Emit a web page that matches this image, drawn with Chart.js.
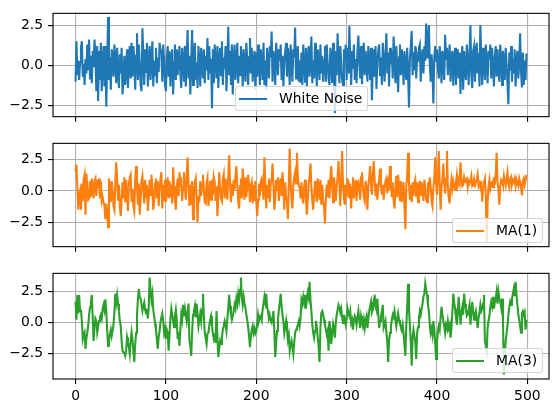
<!DOCTYPE html>
<html>
<head>
<meta charset="utf-8">
<script src="https://cdn.jsdelivr.net/npm/chart.js@4.4.0/dist/chart.umd.min.js"></script>
<style>
  html, body { margin: 0; padding: 0; background: #fff; }
  body { width: 559px; height: 413px; position: relative; overflow: hidden; font-family: "DejaVu Sans", sans-serif; }
  .panel { position: absolute; left: 0; width: 559px; }
  .leg { position: absolute; height: 25px; box-sizing: border-box; border: 1px solid rgba(204,204,204,0.8);
         background: rgba(255,255,255,0.8); border-radius: 3px; font-size: 13.9px; color: #000; }
  .leg .h { position: absolute; left: 3px; top: 10.5px; width: 28px; height: 2px; }
  .leg .t { position: absolute; left: 43px; top: 0; line-height: 23px; white-space: nowrap; }
</style>
</head>
<body>
<div class="panel" style="top:0;height:130px"><canvas id="c1"></canvas></div>
<div class="panel" style="top:130px;height:130px"><canvas id="c2"></canvas></div>
<div class="panel" style="top:260px;height:153px"><canvas id="c3"></canvas></div>

<div class="leg" style="left:235px;top:86px;width:133px"><span class="h" style="background:#1f77b4"></span><span class="t">White Noise</span></div>
<div class="leg" style="left:452px;top:218px;width:91px"><span class="h" style="background:#ff7f0e"></span><span class="t">MA(1)</span></div>
<div class="leg" style="left:452px;top:348px;width:91px"><span class="h" style="background:#2ca02c"></span><span class="t">MA(3)</span></div>

<script>
// values, 500 steps each
const whiteNoise = [
  -1.0, 1.5, -0.6, 0.3, -0.9, 0.2, 1.1, 1.5, -0.7, 0.1, -1.2, 0.4, -0.5, 1.3, -0.3, 1.6, -0.8, 0.6, -1.1, 0.9, -0.1, 1.6, 0.5, -1.6, 1.2,
  -2.2, 0.9, -0.9, 1.4, -1.6, 0.2, 1.2, -1.3, 1.2, -2.55, 0.1, 3.0, -0.9, 0.5, -1.5, 1.0, 0.6, -0.7, 1.3, 0.3, -1.1, 1.1, -0.4, -1.4, 0.7,
  -0.5, 1.1, -1.8, -0.9, 0.6, -1.2, -0.2, 1.0, -1.4, 0.1, 1.2, -0.8, 1.4, -0.7, 1.2, 0.4, -1.5, 0.6, 2.0, -0.9, 1.3, 0.2, -1.2, -1.6, 2.3,
  0.6, -1.2, 1.0, -0.4, 1.4, -1.3, 0.2, 1.2, -0.9, 0.4, 1.5, -1.3, 0.3, -0.6, 1.1, -1.1, 0.5, -0.4, 1.4, 1.0, 0.8, -1.0, 1.3, 0.3, -1.2,
  -1.6, 0.5, 1.2, -0.7, 0.9, -1.3, 0.4, 1.0, -1.8, 0.2, 1.3, -0.9, 1.0, -0.6, 0.3, 1.2, -0.5, -1.4, 1.1, 0.4, -1.0, 1.2, -1.3, 0.5, 2.2,
  -0.8, 0.6, -1.8, 0.3, 2.2, -1.2, 0.5, 1.4, -0.9, 0.2, -1.4, 1.2, 0.3, -1.3, 1.1, 0.4, -0.8, 1.0, -1.1, 0.6, -0.3, 1.7, -0.9, 1.2, -0.5,
  0.4, -2.65, 1.0, -1.1, 1.3, 0.3, -0.8, 1.2, -1.4, 0.2, 1.1, -0.6, 1.5, -1.2, 0.5, -0.2, 1.2, -1.6, 0.3, 2.4, -0.6, 0.9, -1.2, 1.3, -1.8,
  0.4, 1.3, -0.9, 0.2, 1.4, -1.1, 0.6, -0.6, 1.2, 0.3, -1.3, 1.0, 0.1, -1.0, 1.4, 0.4, -1.2, 0.5, 1.7, -0.5, 1.1, -1.0, 0.3, 0.9, -1.5,
  0.8, -0.7, 1.3, 0.2, -1.2, 1.0, 0.4, -0.9, 1.4, -1.2, 0.3, -1.5, 1.1, 0.1, -0.8, 1.2, 0.5, 2.1, -1.0, 0.9, 0.2, -1.2, 1.4, 0.6, -0.6,
  1.0, 0.3, 1.3, -0.9, 0.6, -1.3, 0.2, 0.85, 1.4, -0.7, 1.1, 0.4, -1.2, 1.3, 0.2, -1.0, 1.0, 0.5, 2.35, -0.8, 0.6, 1.2, -1.0, 0.3, -1.06,
  0.8, -1.2, 1.3, 0.2, -1.0, 1.1, -1.3, 0.4, 1.2, -0.7, 0.6, 1.8, -1.1, 0.3, -0.8, 1.4, 0.2, -1.3, 1.0, 0.4, -0.9, 1.3, -0.5, 0.6, -1.0,
  0.3, 1.2, -1.0, 1.3, 0.2, -0.8, -1.2, 1.1, 0.5, -1.1, 1.4, 0.1, -2.95, 0.9, -0.6, 2.0, 0.4, -1.1, 1.2, 0.2, -0.9, -1.2, 1.0, 0.3, 1.3,
  -0.9, 1.1, -0.5, 2.45, 0.3, -1.2, 0.9, -0.2, 1.3, -0.9, 0.4, -1.1, 1.0, 1.85, 0.2, -0.8, 1.2, -1.16, 0.5, 1.4, -0.6, 0.9, 0.2, -1.0, 1.2,
  0.4, -0.9, 1.1, -2.15, 0.3, 1.0, -0.7, 1.2, -1.46, 0.2, 0.9, 1.3, -0.6, 0.5, -1.2, 1.4, 0.3, -1.0, 0.7, 2.0, -0.5, 0.8, -1.3, 1.1, 0.1,
  0.9, -0.8, 1.8, 0.3, -1.1, 1.2, -0.2, -1.66, 0.5, 1.3, -0.6, 1.0, 0.4, -1.2, 0.9, -0.2, -0.9, 1.1, -0.5, -2.6, 0.4, 1.2, 2.14, -0.6, 0.8,
  -0.3, 1.2, -0.8, 0.6, 0.3, 1.1, 1.3, -1.0, 0.4, 1.0, -0.5, 1.2, 0.3, 2.6, 0.5, 1.3, 2.5, 0.2, -1.0, 0.7, -0.3, -2.36, 0.5, 1.2, 0.3,
  1.0, -0.2, -0.8, 1.2, 0.4, -1.1, 0.9, 0.3, -0.9, 1.9, 0.4, 1.1, -0.6, 0.5, 1.3, -1.0, 0.2, 0.9, -1.26, 0.4, 1.1, -1.2, 0.3, 1.0, -0.8,
  0.8, -1.76, 0.3, 1.2, -1.5, 0.9, -0.2, -0.9, 1.3, 0.4, -1.2, 0.7, 2.5, -0.6, -1.4, 0.9, 1.2, -1.0, 0.3, 1.4, -0.5, 0.8, -1.3, 2.5, 0.4,
  -1.2, 1.1, 0.3, -0.9, 1.3, 0.2, -1.1, 0.9, 0.4, 1.3, -0.8, 1.1, 0.1, -1.3, 0.5, 1.2, -0.7, 1.0, -0.2, -1.0, 1.3, 0.4, -1.2, 0.9, 0.3,
  -0.9, 1.1, 0.1, -1.1, -2.4, 0.8, -0.3, 1.2, -1.0, 0.4, -0.5, 1.0, -1.3, 0.3, 0.9, -0.8, 0.2, 2.0, -0.4, -1.36, 0.8, -1.2, 0.3, -0.9, 0.74
];

const ma1 = [
  1.5, 2.1, 0.4, -1.5, -0.3, 0.0, -1.5, 0.6, -0.8, 0.9, 1.3, -1.9, 1.4, 0.3, -0.7, -0.6, 0.8, -0.5, 1.0, 0.3, -0.6, 0.8, 1.0, -0.4, 0.9,
  0.2, 1.0, -0.6, 0.8, -0.8, -0.5, -0.9, -1.2, -2.25, -1.0, -1.8, -2.9, 1.0, 0.2, -0.9, 0.8, 0.1, -1.2, -1.5, 0.6, 2.3, 1.0, -0.7, 0.5, -1.2,
  -2.0, -0.7, 0.7, -0.6, 1.1, -0.9, 0.9, -0.4, -1.6, 0.6, 1.1, 1.3, -0.9, 0.2, -1.2, -1.6, 0.8, 2.0, 0.3, -1.1, 0.6, -1.9, -0.6, 0.8, 1.2,
  0.1, -1.0, 0.9, -0.5, 0.5, -1.6, -0.6, 0.9, -0.4, 1.3, 0.2, -1.5, -0.8, 0.6, 1.0, -0.6, 0.8, -1.2, 0.2, 0.9, 1.5, -1.4, 0.5, -0.8, 0.9,
  -0.9, 0.2, 1.1, -0.6, 0.8, -0.5, 0.5, -1.0, 1.9, 0.4, -0.7, -1.5, 0.2, 1.0, -0.4, 1.5, 0.6, 0.8, -0.8, 0.3, 1.5, 0.2, -0.7, 1.2, 2.7,
  0.6, -1.2, 0.5, -1.1, 0.8, -2.25, -0.6, 0.7, 1.0, -0.6, -2.5, -0.4, -0.9, 0.8, -0.4, 0.6, 1.3, 0.1, -0.9, -1.0, 0.6, 1.0, -1.2, -0.5, 0.8,
  -0.7, 0.9, -0.3, 1.1, 0.7, -0.8, 0.4, -2.0, -0.5, 1.5, 0.4, -0.6, -0.8, 0.9, 1.3, -0.6, 1.0, 0.2, -0.7, 1.1, 2.85, 0.5, -0.9, 0.6, -0.4,
  0.9, 0.1, 1.2, 2.0, 0.4, -0.8, -1.4, 0.4, 1.0, -0.6, 1.8, 0.6, -0.7, 1.1, -0.5, 0.5, 1.3, 0.5, -0.9, 0.4, 0.7, -1.0, 0.5, -0.8, 0.8,
  -0.8, -2.0, -0.7, 0.6, -0.4, 0.8, 1.0, 0.2, -0.7, 2.7, 0.6, -1.4, 0.5, -0.5, 1.0, -0.9, 0.6, 0.9, 2.2, 0.5, -1.5, -0.5, 0.9, 0.1, 1.1,
  -0.8, 0.5, 1.0, -0.4, 1.5, 0.4, -1.5, 0.7, -0.5, -0.8, -2.25, 0.6, 3.4, 0.8, -0.7, -1.4, 0.5, 1.1, 1.5, 0.6, 3.05, 1.2, 0.4, 0.3, -0.6,
  0.7, -0.5, -1.0, 0.4, 0.9, -0.7, -1.9, -0.7, 0.6, 1.1, 2.2, 0.3, -0.8, -1.5, -0.4, 0.8, 0.1, -0.9, 1.0, 0.2, -0.7, 0.9, -1.1, 0.5, -0.8,
  -1.2, -2.6, -0.7, 0.5, -0.5, 0.9, -0.6, 1.0, 2.0, 0.4, -0.9, 1.1, 0.3, -0.8, 0.4, 1.1, 2.4, 0.6, -1.2, 0.8, 3.2, 0.5, -0.6, -1.1, 0.5,
  -0.5, 0.9, 0.8, -0.6, 0.6, -1.4, 0.3, 1.1, -0.6, 0.2, 0.9, -0.8, 0.7, 0.8, 0.1, -0.7, 1.1, 1.5, 0.3, -0.5, -0.8, 0.8, 0.2, -1.5, 0.4,
  1.1, 2.0, 0.5, -0.3, 1.4, 2.4, 0.8, -0.4, 0.6, -0.7, 0.2, 0.9, 1.8, 0.4, -0.3, 0.5, -0.7, 0.3, 0.8, 1.0, -0.2, 0.6, 0.1, 2.0, 0.7,
  -0.5, 0.7, -0.8, -1.4, 0.3, 1.2, -0.5, 1.3, 0.4, -0.8, 0.8, -0.9, 0.2, 0.7, -1.2, -3.05, 0.4, 1.2, 3.05, 0.6, -0.7, 0.5, -0.9, 0.7, -0.4,
  0.6, 0.9, -0.5, 0.7, -0.9, 0.2, 0.8, -0.4, 0.7, 0.1, -0.8, 0.9, 0.3, -0.7, -0.9, 0.7, 0.2, 1.1, 0.4, -0.8, -1.2, 0.3, 1.0, 2.7, 0.6,
  -0.3, 1.4, 3.2, 0.5, -1.5, 0.4, 0.9, 2.2, 0.6, -0.2, 1.0, 3.2, 0.4, -0.5, -1.0, 0.3, 0.9, 0.2, 0.8, 0.4, 0.1, 0.7, 1.3, 0.5, 0.9,
  0.6, 2.3, 1.0, 0.4, 0.5, 1.1, 0.7, 0.9, 1.0, 0.3, 0.8, 0.6, 0.8, 1.2, 0.4, 0.5, 0.9, 0.3, 0.7, 0.9, 1.3, 0.4, 0.6, 0.3, 0.8,
  -0.85, 0.3, 0.7, 1.0, -0.4, -4.1, -1.0, 0.4, 0.9, 0.2, 0.6, 0.7, 0.3, 1.1, 0.5, 1.4, 3.05, 0.6, 0.2, -1.1, 0.4, 0.9, 0.8, 0.5, 1.2,
  0.7, 0.4, 1.0, 1.5, 0.6, 0.3, 0.9, 1.1, 0.5, 0.8, 0.7, 1.0, 0.4, 0.9, 0.6, 0.4, 1.0, 0.7, 0.3, -0.35, 0.8, 1.0, 0.5, 0.9, 1.3
];

const ma3 = [
  1.65, 0.2, 2.2, 0.7, 2.2, 0.9, 1.0, 0.1, -1.35, -1.0, -0.8, -2.15, -1.3, -0.85, -0.3, 0.6, 1.2, 1.6, 2.2, 0.4, -1.5, -0.4, 0.3, 0.1, -0.8,
  -0.3, 0.1, 0.4, 0.6, 0.3, 1.1, 1.4, 1.0, 1.85, 0.9, -0.6, -1.9, -1.5, -1.0, -0.6, -1.1, -0.7, -0.2, 0.8, 2.3, 1.6, 2.2, 1.5, 0.9, 0.1,
  -0.3, -1.5, -2.3, -2.4, -2.5, -2.7, -2.2, -1.2, -1.6, -2.0, -2.55, -1.5, -0.8, -1.4, -2.3, -3.2, -1.8, -0.85, 0.6, 1.8, 2.7, 2.0, 1.9, 1.4, 0.9,
  1.3, 1.6, 1.0, 0.7, 1.1, 0.3, 1.2, 3.6, 2.6, 1.8, 2.3, 1.0, 0.5, -0.1, -0.6, -1.4, -2.15, -1.2, -0.7, 0.0, 0.4, 0.7, 0.1, -0.85, -0.5,
  -1.35, -0.6, -0.85, -2.3, -1.0, 0.3, 1.1, 0.6, 0.1, -0.4, 0.5, 1.0, 0.2, -1.35, -0.8, -1.9, -0.5, 0.6, 0.2, 1.4, 0.5, 1.1, 0.6, 0.1, 0.8,
  1.5, -1.5, -1.9, -2.7, -0.8, 0.6, 0.9, 1.3, 0.4, 1.5, 0.7, -0.3, 0.2, 0.7, 0.1, 1.0, 2.3, 0.5, -0.85, -1.3, -1.75, -0.9, -0.85, -0.3, 0.2,
  0.5, -0.3, -0.9, -1.35, -1.1, -1.65, 0.9, -1.2, -2.8, -2.1, -1.5, -1.75, -1.2, -0.6, -0.3, 0.1, -0.2, -0.7, 0.3, 1.1, 2.2, 1.3, 0.6, 0.2, 0.5,
  0.9, 1.4, 1.1, 1.9, 1.5, 2.3, 1.8, 2.6, 3.6, 2.0, 1.4, 2.05, 1.5, 1.2, 0.6, 0.2, -0.4, -1.1, -2.0, -1.2, -0.6, -0.3, -0.85, -0.5, -0.9,
  -0.7, -0.2, 0.6, 0.1, 0.35, 0.5, 0.2, 1.0, 1.5, 2.05, 1.6, 2.3, 1.2, 0.9, 0.3, 0.5, 0.1, -0.05, 0.4, 0.9, -0.7, -2.8, -1.6, -0.7, 0.2,
  1.0, 1.6, 2.3, 1.3, 0.6, 0.1, -0.85, -0.4, 0.1, -0.6, -1.4, -1.0, -2.3, -1.8, -1.5, -2.0, -2.55, -1.6, -0.85, -0.6, -0.45, -0.2, 0.1, -0.3, 0.35,
  1.8, 1.5, 2.05, 1.6, 2.2, 1.1, 1.9, 2.4, 2.0, 3.25, 1.8, 0.9, -0.2, -0.85, -1.25, -0.7, 0.1, -0.4, -1.25, -1.9, -3.2, -0.45, 0.75, 0.9, 0.6,
  0.2, -0.2, -0.6, -1.0, -0.7, -2.3, 0.1, -0.6, -1.75, -0.9, -0.2, -0.7, -1.25, -0.05, 0.6, 1.0, 1.4, 1.2, 0.8, 1.1, 0.4, -0.05, 0.6, 0.2, -0.2,
  0.3, 1.1, 0.7, 0.5, 0.9, -0.05, 0.2, -0.6, 0.1, 0.5, 0.3, -0.2, 0.4, 0.9, 0.2, -0.45, 0.5, 0.1, -0.3, 0.2, -0.45, 0.2, 0.5, -0.45, 0.3,
  0.9, 1.3, 1.65, 0.8, 1.0, 1.5, 2.2, 1.3, 1.0, 1.9, 0.7, -0.45, 0.1, 0.5, 0.9, 1.4, -0.45, -0.2, 0.1, -0.8, -1.6, -3.2, -1.4, -0.85, -0.3,
  0.2, 0.6, 0.4, 0.9, 0.3, -0.3, 0.2, 0.7, 0.2, -0.1, -0.3, -0.6, -0.2, -0.9, -1.8, -2.7, -0.3, 1.2, 3.1, 1.0, -0.2, -1.6, -3.5, -1.25, -0.6,
  -1.1, -1.6, -2.95, -0.85, -0.4, 0.3, 0.9, 0.6, 1.1, 1.5, 2.05, 2.3, 3.1, 2.6, 2.2, 1.4, 0.9, -0.2, -0.85, -0.5, -1.0, 0.1, -0.6, -1.65, -2.95,
  -1.6, -0.7, -0.3, -0.6, 0.4, 1.25, 0.6, 0.1, -0.3, -0.85, -0.2, -0.45, 0.1, -0.45, -0.2, -1.25, -0.45, 0.8, 2.3, 1.6, 1.1, 0.4, -0.2, 0.8, 2.05,
  0.9, -0.2, 0.75, 1.2, 0.6, 2.3, 1.5, 1.1, 0.5, 0.6, 1.0, 1.4, -0.2, 0.8, 1.65, 0.9, 0.2, 0.6, 0.9, 0.3, -0.45, 0.35, 0.8, 1.4, 0.9,
  1.1, 1.5, 2.2, -1.5, -1.9, -2.3, -0.45, 0.1, 0.5, 1.2, 1.65, 1.3, 2.05, 1.1, 1.6, 1.9, 2.45, 1.5, 2.45, 1.9, 1.65, 1.2, 1.9, 0.2, -4.2,
  -2.8, -1.5, -0.9, -0.3, 0.6, 1.2, 1.65, 1.4, 1.9, 2.3, 2.7, 2.1, 3.25, 2.2, 1.4, 0.6, 0.2, -0.3, -0.85, 0.75, 0.9, 0.6, 0.8, -0.6, 0.2
];

const steps = whiteNoise.map((v, i) => i);
const xTicks = [0, 100, 200, 300, 400, 500];
const yTicks = [-2.5, 0, 2.5];

Chart.defaults.font.family = 'DejaVu Sans';
Chart.defaults.font.size = 13.9;
Chart.defaults.color = '#000';

// full box round the plot, like matplotlib spines
const frame = {
  id: 'frame',
  afterDatasetsDraw(chart) {
    const a = chart.chartArea;
    const ctx = chart.ctx;
    ctx.save();
    ctx.strokeStyle = '#000';
    ctx.lineWidth = 1.1;
    ctx.strokeRect(a.left, a.top, a.right - a.left, a.bottom - a.top);
    ctx.restore();
  }
};

function makePanel(id, values, color, yMin, yMax, padTop, xHeight, showX) {
  let ctx = document.getElementById(id).getContext('2d');
  return new Chart(ctx, {
    type: 'line',
    data: {
      labels: steps,
      datasets: [{
        data: values,
        borderColor: color,
        borderWidth: 2.1,
        pointRadius: 0,
        tension: 0,
        fill: false
      }]
    },
    options: {
      responsive: true,
      maintainAspectRatio: false,
      animation: false,
      events: [],
      layout: { padding: { left: 0, right: 10, top: padTop, bottom: 0 } },
      plugins: { legend: { display: false }, tooltip: { enabled: false } },
      scales: {
        x: {
          type: 'linear',
          min: -24.95,
          max: 523.95,
          afterBuildTicks: axis => { axis.ticks = xTicks.map(v => ({ value: v })); },
          afterFit: axis => { axis.height = xHeight; },
          grid: { color: '#b0b0b0', lineWidth: 1.1, tickColor: '#000', tickLength: 5 },
          border: { display: false },
          ticks: { display: showX, maxRotation: 0, padding: 4 }
        },
        y: {
          min: yMin,
          max: yMax,
          afterBuildTicks: axis => { axis.ticks = yTicks.map(v => ({ value: v })); },
          afterFit: axis => { axis.width = 53; },
          grid: { color: '#b0b0b0', lineWidth: 1.1, tickColor: '#000', tickLength: 5 },
          border: { display: false },
          ticks: {
            padding: 5,
            callback: v => (v < 0 ? '\u2212' : '') + Math.abs(v).toFixed(1)
          }
        }
      }
    },
    plugins: [frame]
  });
}

makePanel('c1', whiteNoise, '#1f77b4', -3.17, 3.23, 10, 12, false);
makePanel('c2', ma1, '#ff7f0e', -4.45, 3.81, 10, 11, false);
makePanel('c3', ma3, '#2ca02c', -4.57, 3.94, 11, 34, true);
</script>
</body>
</html>
